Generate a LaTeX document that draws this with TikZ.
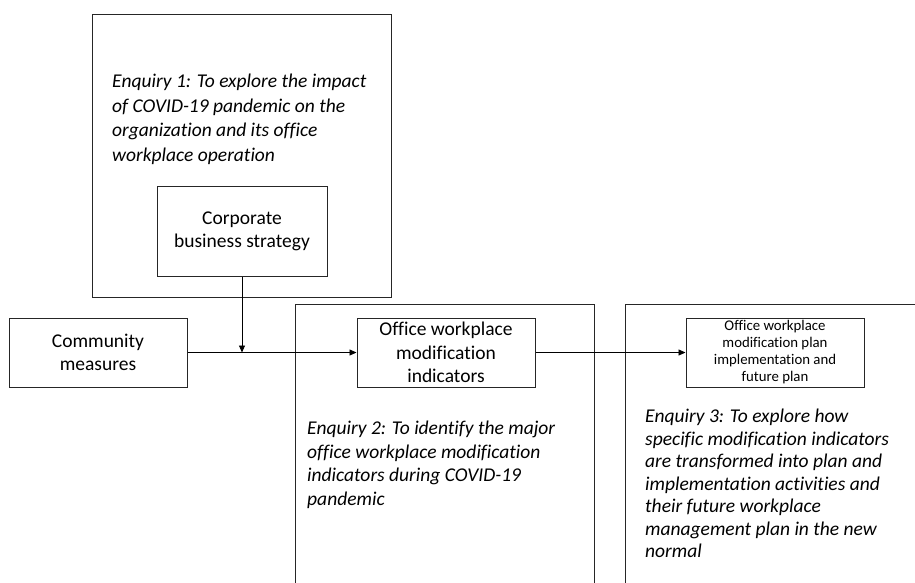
\documentclass[tikz,border=0pt]{standalone}
\usepackage{fontspec}
\setmainfont[Ligatures={NoCommon}]{Carlito}
\usetikzlibrary{arrows.meta}
\tikzset{
  box/.style={draw=black!85, line width=1pt, inner sep=0pt, align=center},
  frame/.style={draw=black!85, line width=1pt},
  conn/.style={draw=black, line width=0.9pt},
  arr/.style={conn, -{Triangle[length=7pt,width=6pt]}},
  enq/.style={inner sep=0pt, align=left, anchor=north west, font=\itshape\fontsize{19.5}{24.5}\selectfont}
}
\begin{document}
\begin{tikzpicture}[x=1pt,y=-1pt]
\useasboundingbox (0,0) rectangle (915,582);
% frames
\node[box, minimum width=299pt, minimum height=283pt] (e1box) at (241.5,155.5) {};
\draw[frame] (295,584) -- (295,304) -- (594,304) -- (594,584);
\draw[frame] (625,584) -- (625,304) -- (917,304);
% enquiry texts
\node[enq] (e1) at (112,74) {Enquiry 1: To explore the impact\\of COVID-19 pandemic on the\\organization and its office\\workplace operation};
\node[enq, font=\itshape\fontsize{19.5}{23.5}\selectfont] (e2) at (307,421) {Enquiry 2: To identify the major\\office workplace modification\\indicators during COVID-19\\pandemic};
\node[enq, font=\itshape\fontsize{19.5}{22.5}\selectfont] (e3) at (645,409) {Enquiry 3: To explore how\\specific modification indicators\\are transformed into plan and\\implementation activities and\\their future workplace\\management plan in the new\\normal};
% boxes
\node[box, minimum width=170pt, minimum height=90pt, font=\fontsize{19.5}{23}\selectfont] (corp) at (242,231) {Corporate\\business strategy};
\node[box, minimum width=178pt, minimum height=69pt, font=\fontsize{19.5}{23}\selectfont] (comm) at (98,352.5) {Community\\measures};
\node[box, minimum width=178pt, minimum height=69pt, font=\fontsize{19.5}{23.5}\selectfont] (office) at (446,352.5) {Office workplace\\modification\\indicators};
\node[box, minimum width=178pt, minimum height=69pt, font=\fontsize{14.8}{17}\selectfont] (plan) at (775,352.5) {Office workplace\\modification plan\\implementation and\\future plan};
% connectors
\coordinate (j) at (corp.south |- comm.east);
\draw[arr] (corp.south) -- (j);
\draw[arr] (comm.east) -- (office.west);
\draw[arr] (office.east) -- (plan.west);
\end{tikzpicture}
\end{document}
